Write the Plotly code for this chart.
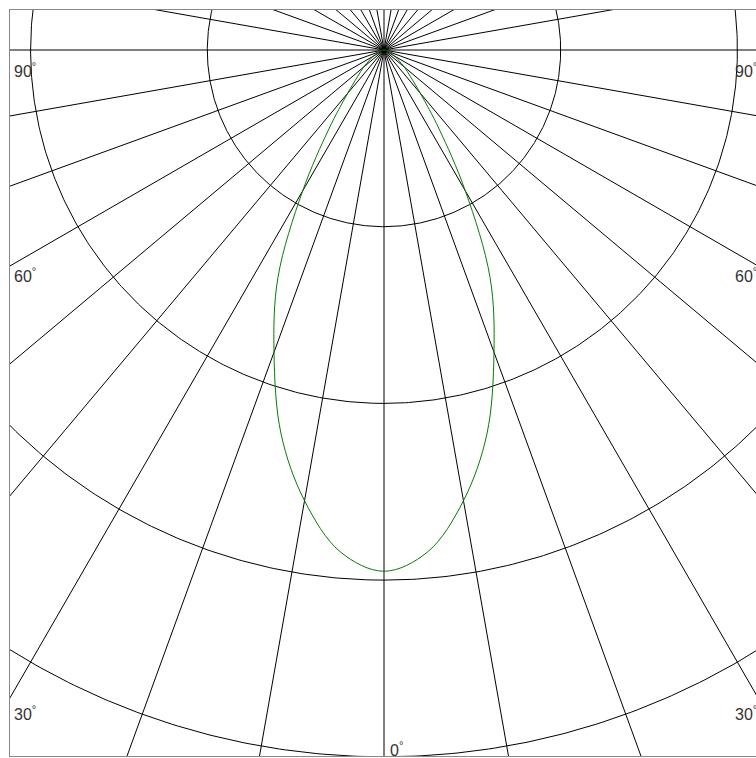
import numpy as np
import plotly.graph_objects as go

# ---- data ----
gamma_deg = [0, 5, 10, 15, 20, 25, 30, 35, 40, 45, 50, 55, 60, 65, 70, 75, 80, 85, 90]
intensity = [295, 285, 259, 225, 182, 142, 92, 54, 32, 21, 15, 10, 7, 5, 3.5, 2.5, 1.5, 1, 0]
ring_values = [100, 200, 300, 400]
spoke_angles = list(range(0, 360, 10))
label_texts = ["90°", "60°", "30°", "0°"]

# ---- geometry helpers (polar -> cartesian, 0° pointing down) ----
def to_xy(r, theta_deg):
    t = np.radians(np.asarray(theta_deg, dtype=float))
    r = np.asarray(r, dtype=float)
    return r * np.sin(t), -r * np.cos(t)

fig = go.Figure()

# spokes
sx, sy = [], []
for a in spoke_angles:
    x1, y1 = to_xy(700, a)
    sx += [0, float(x1), None]
    sy += [0, float(y1), None]
fig.add_trace(go.Scatter(x=sx, y=sy, mode="lines",
                         line=dict(color="black", width=1),
                         hoverinfo="skip", showlegend=False))

# rings
phi = np.linspace(0, 360, 721)
rx, ry = [], []
for rv in ring_values:
    cx, cy = to_xy(np.full_like(phi, rv), phi)
    rx += list(cx) + [None]
    ry += list(cy) + [None]
fig.add_trace(go.Scatter(x=rx, y=ry, mode="lines",
                         line=dict(color="black", width=1),
                         hoverinfo="skip", showlegend=False))

# intensity curve (symmetric)
theta_full = [-g for g in gamma_deg[::-1]] + gamma_deg[1:]
i_full = intensity[::-1] + intensity[1:]
cxv, cyv = to_xy(i_full, theta_full)
fig.add_trace(go.Scatter(x=cxv, y=cyv, mode="lines",
                         line=dict(color="#008000", width=1, shape="spline", smoothing=1.0),
                         hoverinfo="skip", showlegend=False))

# ---- labels ----
px_per_unit = 1.767
cx_px, cy_px = 384, 50
def ydata(py):
    return -(py - cy_px) / px_per_unit

font = dict(family="Liberation Sans, Arial, sans-serif", size=16, color="#333333")
def lab(t):
    return t.replace("°", "<sup>°</sup>")

left_pos = [70, 275, 713]
for txt, py in zip(label_texts[:3], left_pos):
    fig.add_annotation(text=lab(txt), xref="paper", x=0, xanchor="left", xshift=2,
                       yref="y", y=ydata(py), yanchor="middle",
                       showarrow=False, font=font)
    fig.add_annotation(text=lab(txt), xref="paper", x=1, xanchor="right", xshift=3,
                       yref="y", y=ydata(py), yanchor="middle",
                       showarrow=False, font=font)
fig.add_annotation(text=lab(label_texts[3]), xref="x", x=(388 - cx_px) / px_per_unit,
                   xanchor="left", yref="y", y=ydata(749), yanchor="middle",
                   showarrow=False, font=font)

fig.update_xaxes(range=[-(cx_px - 10) / px_per_unit, (756 - cx_px) / px_per_unit], showgrid=False,
                 zeroline=False, showticklabels=False, ticks="",
                 showline=True, mirror=True, linecolor="#888888", linewidth=1)
fig.update_yaxes(range=[-(756 - cy_px) / px_per_unit, (cy_px - 10) / px_per_unit], showgrid=False,
                 zeroline=False, showticklabels=False, ticks="",
                 showline=True, mirror=False, linecolor="#888888", linewidth=1)
fig.update_layout(width=756, height=758,
                  margin=dict(l=10, r=0, t=10, b=2),
                  plot_bgcolor="white", paper_bgcolor="white")

fig.write_html("out.html", config={"displayModeBar": False},
               post_script="document.body.style.margin='0';document.body.style.overflow='hidden';")
